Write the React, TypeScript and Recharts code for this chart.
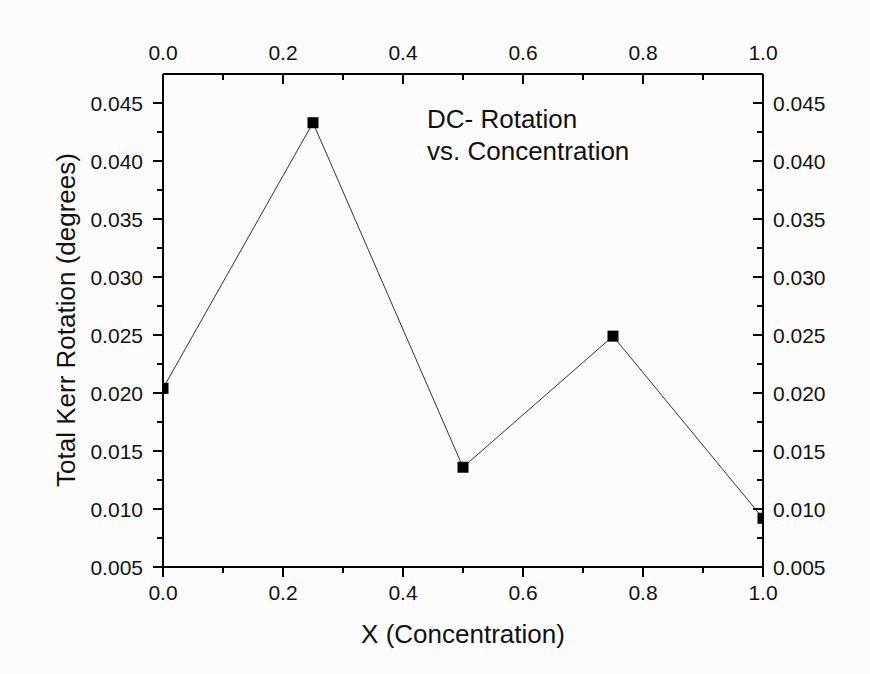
import { LineChart, Line, XAxis, YAxis } from 'recharts';

const concentration = [0, 0.25, 0.5, 0.75, 1.0];
const kerrRotation = [0.0204, 0.0433, 0.0136, 0.0249, 0.0092];

const xMajorTicks = [0, 0.2, 0.4, 0.6, 0.8, 1.0];
const xMinorTicks = [0.1, 0.3, 0.5, 0.7, 0.9];
const yMajorTicks = [0.005, 0.01, 0.015, 0.02, 0.025, 0.03, 0.035, 0.04, 0.045];
const yMinorTicks = [0.0075, 0.0125, 0.0175, 0.0225, 0.0275, 0.0325, 0.0375, 0.0425];

const data = concentration.map((x, i) => ({ x, rot: kerrRotation[i] }));

const FONT = '"Liberation Sans", Arial, sans-serif';

const isMajor = (v: number, majors: number[]) => majors.some((m) => Math.abs(m - v) < 1e-9);

const AxisTick = (props: any) => {
  const { x, y, payload, side } = props;
  const v = payload.value;
  const majors = side === 'left' || side === 'right' ? yMajorTicks : xMajorTicks;
  const major = isMajor(v, majors);
  const len = major ? 10 : 6;
  const label = side === 'left' || side === 'right' ? v.toFixed(3) : v.toFixed(1);
  const textProps = { fontFamily: FONT, fontSize: 21, fill: '#111' };

  if (side === 'left') {
    return (
      <g>
        <line x1={x - len} y1={y} x2={x} y2={y} stroke="#000" strokeWidth={2} />
        {major && <text x={x - 20} y={y} dy="0.36em" textAnchor="end" {...textProps}>{label}</text>}
      </g>
    );
  }
  if (side === 'right') {
    return (
      <g>
        <line x1={x - len} y1={y} x2={x} y2={y} stroke="#000" strokeWidth={2} />
        {major && <text x={x + 10} y={y} dy="0.36em" textAnchor="start" {...textProps}>{label}</text>}
      </g>
    );
  }
  if (side === 'bottom') {
    return (
      <g>
        <line x1={x} y1={y} x2={x} y2={y + len} stroke="#000" strokeWidth={2} />
        {major && <text x={x} y={y + 33} textAnchor="middle" {...textProps}>{label}</text>}
      </g>
    );
  }
  return (
    <g>
      <line x1={x} y1={y} x2={x} y2={y + len} stroke="#000" strokeWidth={2} />
      {major && <text x={x} y={y - 14} textAnchor="middle" {...textProps}>{label}</text>}
    </g>
  );
};

const SquareDot = (p: any) => (
  <rect key={`dot-${p.index}`} x={p.cx - 5.5} y={p.cy - 5.5} width={11} height={11} fill="#000" />
);

export default function App() {
  const axisLine = { stroke: '#000', strokeWidth: 2 };
  return (
    <div style={{ position: 'absolute', left: 0, top: 0, width: 870, height: 674, background: '#fcfcfc' }}>
      <LineChart width={870} height={674} data={data} margin={{ top: 0, right: 0, bottom: 0, left: 0 }}>
        <XAxis
          dataKey="x"
          type="number"
          domain={[0, 1]}
          ticks={[...xMajorTicks, ...xMinorTicks]}
          interval={0}
          allowDataOverflow
          height={107}
          tickSize={0}
          tickMargin={0}
          tickLine={false}
          axisLine={axisLine}
          tick={(p: any) => <AxisTick {...p} side="bottom" />}
        />
        <XAxis
          xAxisId="top"
          dataKey="x"
          orientation="top"
          type="number"
          domain={[0, 1]}
          ticks={[...xMajorTicks, ...xMinorTicks]}
          interval={0}
          allowDataOverflow
          height={74}
          tickSize={0}
          tickMargin={0}
          tickLine={false}
          axisLine={axisLine}
          tick={(p: any) => <AxisTick {...p} side="top" />}
        />
        <YAxis
          type="number"
          domain={[0.005, 0.0475]}
          ticks={[...yMajorTicks, ...yMinorTicks]}
          interval={0}
          allowDataOverflow
          width={163}
          tickSize={0}
          tickMargin={0}
          tickLine={false}
          axisLine={axisLine}
          tick={(p: any) => <AxisTick {...p} side="left" />}
        />
        <YAxis
          yAxisId="right"
          orientation="right"
          type="number"
          domain={[0.005, 0.0475]}
          ticks={[...yMajorTicks, ...yMinorTicks]}
          interval={0}
          allowDataOverflow
          width={107}
          tickSize={0}
          tickMargin={0}
          tickLine={false}
          axisLine={axisLine}
          tick={(p: any) => <AxisTick {...p} side="right" />}
        />
        <Line
          dataKey="rot"
          type="linear"
          stroke="#333"
          strokeWidth={1}
          dot={SquareDot}
          activeDot={false}
          isAnimationActive={false}
        />
        <text x={427} y={128} fontFamily={FONT} fontSize={26} fill="#111">DC- Rotation</text>
        <text x={427} y={160} fontFamily={FONT} fontSize={26} fill="#111">vs. Concentration</text>
        <text x={463} y={643} textAnchor="middle" fontFamily={FONT} fontSize={26} fill="#111">X (Concentration)</text>
        <text
          x={75}
          y={320}
          textAnchor="middle"
          transform="rotate(-90, 75, 320)"
          fontFamily={FONT}
          fontSize={26}
          fill="#111"
        >
          Total Kerr Rotation (degrees)
        </text>
      </LineChart>
    </div>
  );
}
